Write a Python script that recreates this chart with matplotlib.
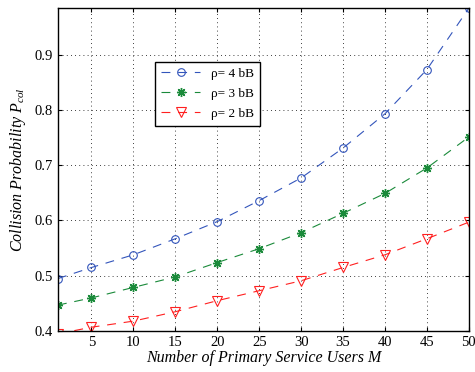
import matplotlib.pyplot as plt

# Collision probability vs number of primary users
M = [1, 5, 10, 15, 20, 25, 30, 35, 40, 45, 50]
p_rho4 = [0.495, 0.515, 0.538, 0.567, 0.598, 0.636, 0.677, 0.731, 0.793, 0.873, 0.984]
p_rho3 = [0.447, 0.460, 0.479, 0.498, 0.524, 0.549, 0.578, 0.613, 0.649, 0.695, 0.751]
p_rho2 = [0.395, 0.407, 0.418, 0.435, 0.455, 0.473, 0.491, 0.515, 0.538, 0.567, 0.597]
labels = ['ρ= 4 bB', 'ρ= 3 bB', 'ρ= 2 bB']

plt.rcParams['font.family'] = ['Liberation Serif', 'DejaVu Serif']
plt.rcParams['mathtext.fontset'] = 'custom'
plt.rcParams['mathtext.rm'] = 'Liberation Serif'
plt.rcParams['mathtext.it'] = 'Liberation Serif:italic'

fig = plt.figure(figsize=(4.75, 3.72), dpi=100)
ax = fig.add_axes([0.122, 0.11, 0.865, 0.868])

dash = (0, (8, 7))
ax.plot(M, p_rho4, linestyle=dash, color='#3355bb', lw=0.8, marker='o',
        markersize=5.5, markerfacecolor='none', markeredgewidth=0.8, label=labels[0])
# asterisk-style marker, like MATLAB's '*'
ax.plot(M, p_rho3, linestyle=dash, color='#1a8a3a', lw=0.8, marker=(8, 2, 0),
        markersize=6.5, markeredgewidth=1.0, label=labels[1])
ax.plot(M, p_rho2, linestyle=dash, color='#ff2020', lw=0.8, marker='v',
        markersize=6.5, markerfacecolor='none', markeredgewidth=0.8, label=labels[2])

ax.set_xlim(1, 50)
ax.set_ylim(0.4, 0.984)
ax.set_xticks([5, 10, 15, 20, 25, 30, 35, 40, 45, 50])
ax.set_yticks([0.4, 0.5, 0.6, 0.7, 0.8, 0.9])
ax.grid(True, linestyle=(0, (1, 4)), color='black', lw=0.6)
ax.tick_params(direction='in', top=True, right=True, labelsize=10.5, length=3)
for s in ax.spines.values():
    s.set_linewidth(1.0)

ax.set_xlabel('Number of Primary Service Users M', style='italic', fontsize=11.5, labelpad=1)
ax.set_ylabel(r'Collision Probability $P_{col}$', style='italic', fontsize=11.5, labelpad=5)

leg = ax.legend(loc='upper left', bbox_to_anchor=(0.22, 0.855), fontsize=9.5,
                fancybox=False, edgecolor='black', framealpha=1,
                handlelength=3.0, borderpad=0.45, labelspacing=0.6)
leg.get_frame().set_linewidth(1.0)

fig.savefig('out.png', dpi=100)
